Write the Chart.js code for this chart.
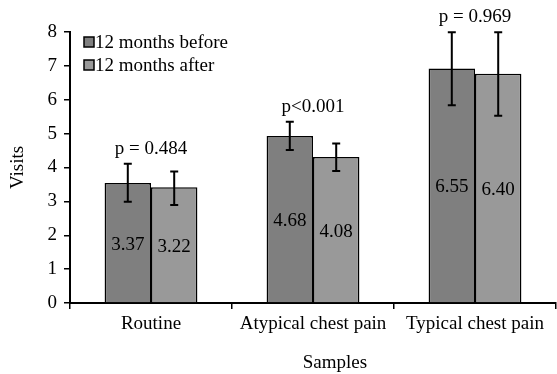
<!DOCTYPE html>
<html>
<head>
<meta charset="utf-8">
<script src="https://cdn.jsdelivr.net/npm/chart.js@4"></script>
<style>
  body { margin: 0; background: #fff; }
  #wrap { width: 557px; height: 374px; }
</style>
</head>
<body>
<div id="wrap"><canvas id="chart" width="557" height="374"></canvas></div>
<script>
const categories = ['Routine', 'Atypical chest pain', 'Typical chest pain'];
const seriesNames = ['12 months before', '12 months after'];
const beforeVals = [3.54, 4.93, 6.92];
const afterVals = [3.42, 4.31, 6.77];
const beforeLow = [2.99, 4.52, 5.84];
const beforeHigh = [4.11, 5.35, 7.99];
const afterLow = [2.89, 3.90, 5.53];
const afterHigh = [3.88, 4.71, 7.99];
const beforeLabels = ['3.37', '4.68', '6.55'];
const afterLabels = ['3.22', '4.08', '6.40'];
const pValues = ['p = 0.484', 'p<0.001', 'p = 0.969'];
const yMin = 0, yMax = 8, yStep = 1;

const serif = "'Liberation Serif', 'Times New Roman', 'DejaVu Serif', serif";
const colors = ['#7f7f7f', '#999999'];
const errLow = [beforeLow, afterLow];
const errHigh = [beforeHigh, afterHigh];
const valueLabels = [beforeLabels, afterLabels];

// error bars, value labels, p-values, legend and axis titles
const extras = {
    id: 'extras',
    afterDatasetsDraw(chart) {
        const ctx = chart.ctx;
        const y = chart.scales.y;
        const area = chart.chartArea;
        ctx.save();
        ctx.fillStyle = '#000';
        ctx.strokeStyle = '#000';
        ctx.font = `19px ${serif}`;
        ctx.textAlign = 'center';
        ctx.textBaseline = 'middle';

        chart.data.datasets.forEach((ds, di) => {
            const meta = chart.getDatasetMeta(di);
            meta.data.forEach((bar, i) => {
                // value label in the middle of the bar
                ctx.fillText(valueLabels[di][i], bar.x, (bar.y + bar.base) / 2 + 2);
                // error bar
                const top = y.getPixelForValue(errHigh[di][i]);
                const bot = y.getPixelForValue(errLow[di][i]);
                ctx.lineWidth = 2;
                ctx.beginPath();
                ctx.moveTo(bar.x, top); ctx.lineTo(bar.x, bot);
                ctx.moveTo(bar.x - 4, top); ctx.lineTo(bar.x + 4, top);
                ctx.moveTo(bar.x - 4, bot); ctx.lineTo(bar.x + 4, bot);
                ctx.stroke();
            });
        });

        // p-values above each group
        categories.forEach((c, i) => {
            const x = chart.scales.x.getPixelForValue(i);
            const hi = Math.max(beforeHigh[i], afterHigh[i]);
            ctx.fillText(pValues[i], x, y.getPixelForValue(hi) - 15);
        });

        // legend
        ctx.textAlign = 'left';
        seriesNames.forEach((name, i) => {
            const cy = area.top + 10 + i * 23;
            ctx.fillStyle = colors[i];
            ctx.fillRect(area.left + 14, cy - 5, 10, 10);
            ctx.lineWidth = 1.5;
            ctx.strokeRect(area.left + 14, cy - 5, 10, 10);
            ctx.fillStyle = '#000';
            ctx.fillText(name, area.left + 25, cy + 1);
        });

        // axis titles
        ctx.textAlign = 'center';
        ctx.fillText('Samples', (area.left + area.right) / 2 + 22, 363);
        ctx.translate(18, (area.top + area.bottom) / 2);
        ctx.rotate(-Math.PI / 2);
        ctx.fillText('Visits', 0, 0);
        ctx.restore();
    }
};

new Chart(document.getElementById('chart'), {
    type: 'bar',
    data: {
        labels: categories,
        datasets: [
            { label: seriesNames[0], data: beforeVals, backgroundColor: colors[0], borderColor: '#000', borderWidth: 1.5 },
            { label: seriesNames[1], data: afterVals, backgroundColor: colors[1], borderColor: '#000', borderWidth: 1.5 }
        ]
    },
    options: {
        responsive: false,
        animation: false,
        categoryPercentage: 0.573,
        barPercentage: 1.0,
        layout: { padding: { top: 32, right: 1, left: 0, bottom: 0 } },
        plugins: { legend: { display: false }, tooltip: { enabled: false } },
        scales: {
            x: {
                afterFit: s => { s.height = 71; },
                grid: { offset: true, drawOnChartArea: false, tickLength: 6, color: '#000', lineWidth: 1.5 },
                border: { color: '#000', width: 2 },
                ticks: { color: '#000', padding: 4, font: { family: serif, size: 19 } }
            },
            y: {
                min: yMin, max: yMax,
                afterFit: s => { s.width = 70; },
                grid: { drawOnChartArea: false, tickLength: 6, color: '#000', lineWidth: 1.5 },
                border: { color: '#000', width: 2 },
                ticks: { stepSize: yStep, color: '#000', padding: 7, font: { family: serif, size: 19 } }
            }
        }
    },
    plugins: [extras]
});
</script>
</body>
</html>
